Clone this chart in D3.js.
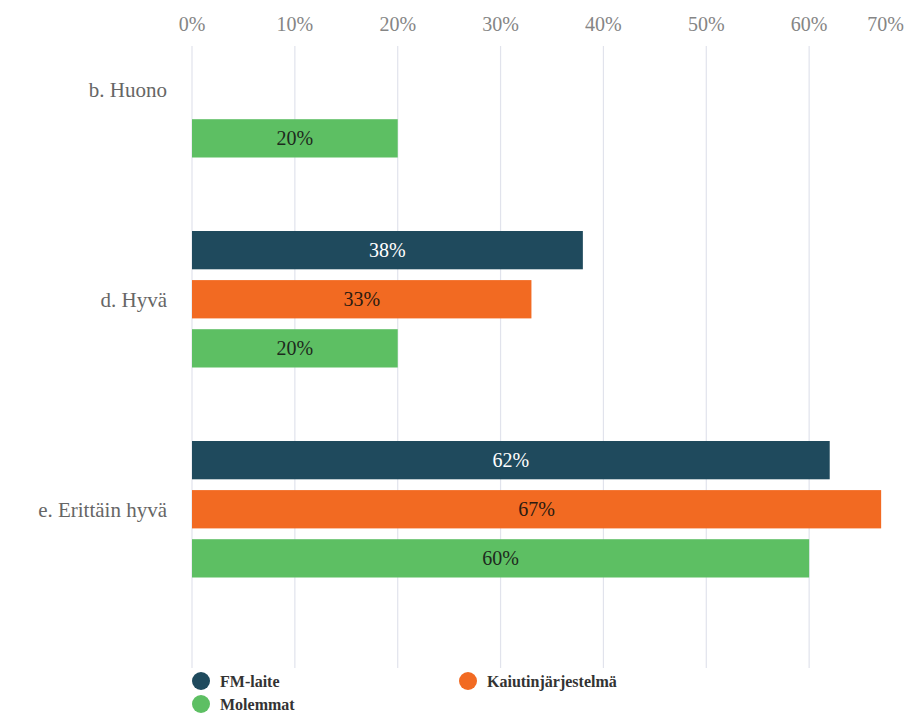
<!DOCTYPE html>
<html>
<head>
<meta charset="utf-8">
<script src="https://cdn.jsdelivr.net/npm/d3@7"></script>
<style>
  body { margin: 0; background: #fff; }
  svg { display: block; }
  .serif { font-family: "Liberation Serif", "Times New Roman", Tinos, "DejaVu Serif", serif; }
</style>
</head>
<body>
<div id="chart"></div>
<script>
// ============= Data =============
const categories = ["b. Huono", "d. Hyvä", "e. Erittäin hyvä"];
const seriesNames = ["FM-laite", "Kaiutinjärjestelmä", "Molemmat"];
// null = no bar for that category
const fmValues = [null, 0.38, 0.62];
const kaiutinValues = [null, 0.33, 0.67];
const molemmatValues = [0.20, 0.20, 0.60];
const tickValues = [0, 10, 20, 30, 40, 50, 60, 70];
const tickLabels = ["0%", "10%", "20%", "30%", "40%", "50%", "60%", "70%"];

const seriesValues = [fmValues, kaiutinValues, molemmatValues];
const rows = [];
categories.forEach((cat, i) => {
    seriesNames.forEach((s, j) => {
        if (seriesValues[j][i] !== null) rows.push({ cat, series: s, value: seriesValues[j][i] * 100 });
    });
});

const width = 905;
const height = 715;

const colorScale = d3.scaleOrdinal()
    .domain(seriesNames)
    .range(["#1f4a5d", "#f26a22", "#5dbf63"]);
const labelColor = d3.scaleOrdinal()
    .domain(seriesNames)
    .range(["#ffffff", "#2a1a10", "#1d2a1d"]);

const x = d3.scaleLinear().domain([0, 70]).range([192, 912]);

const y0 = d3.scaleBand()
    .domain(categories)
    .range([21, 577.5])
    .paddingInner(0.35)
    .paddingOuter(0);

const y1 = d3.scaleBand()
    .domain(seriesNames)
    .range([0, y0.bandwidth()])
    .padding(0.22)
    .paddingOuter(0);

const svg = d3.select("#chart").append("svg")
    .attr("width", width)
    .attr("height", height);

// gridlines (no line at 70%, it sits outside the picture)
svg.append("g")
    .selectAll("line")
    .data(tickValues.slice(0, -1))
    .join("line")
    .attr("x1", d => x(d)).attr("x2", d => x(d))
    .attr("y1", 46).attr("y2", 668)
    .attr("stroke", "#e1e3ec")
    .attr("stroke-width", 1.2);

// top tick labels; last one is pushed left so it stays in the picture
svg.append("g")
    .selectAll("text")
    .data(tickValues)
    .join("text")
    .attr("class", "serif")
    .attr("x", d => d === 70 ? 904 : x(d))
    .attr("y", 31)
    .attr("text-anchor", d => d === 70 ? "end" : "middle")
    .style("font-size", "20px")
    .attr("fill", "#858585")
    .text((d, i) => tickLabels[i]);

// category labels
svg.append("g")
    .selectAll("text")
    .data(categories)
    .join("text")
    .attr("class", "serif")
    .attr("x", 167)
    .attr("y", d => y0(d) + y0.bandwidth() / 2)
    .attr("dy", "0.35em")
    .attr("text-anchor", "end")
    .style("font-size", "21px")
    .attr("fill", "#666")
    .text(d => d);

// bars
svg.append("g")
    .selectAll("rect")
    .data(rows)
    .join("rect")
    .attr("x", x(0))
    .attr("y", d => y0(d.cat) + y1(d.series))
    .attr("width", d => x(d.value) - x(0))
    .attr("height", y1.bandwidth())
    .attr("fill", d => colorScale(d.series));

// bar value labels
svg.append("g")
    .selectAll("text")
    .data(rows)
    .join("text")
    .attr("class", "serif")
    .attr("x", d => (x(0) + x(d.value)) / 2)
    .attr("y", d => y0(d.cat) + y1(d.series) + y1.bandwidth() / 2)
    .attr("dy", "0.35em")
    .attr("text-anchor", "middle")
    .style("font-size", "20px")
    .attr("fill", d => labelColor(d.series))
    .text(d => Math.round(d.value) + "%");

// legend
const legendPos = [[201, 681], [468, 681], [201, 704]];
const legend = svg.append("g")
    .selectAll("g")
    .data(seriesNames)
    .join("g")
    .attr("transform", (d, i) => `translate(${legendPos[i][0]}, ${legendPos[i][1]})`);
legend.append("circle")
    .attr("r", 9)
    .attr("fill", d => colorScale(d));
legend.append("text")
    .attr("class", "serif")
    .attr("x", 19)
    .attr("dy", "0.35em")
    .style("font-size", "16px")
    .style("font-weight", "bold")
    .attr("fill", "#333")
    .text(d => d);
</script>
</body>
</html>
